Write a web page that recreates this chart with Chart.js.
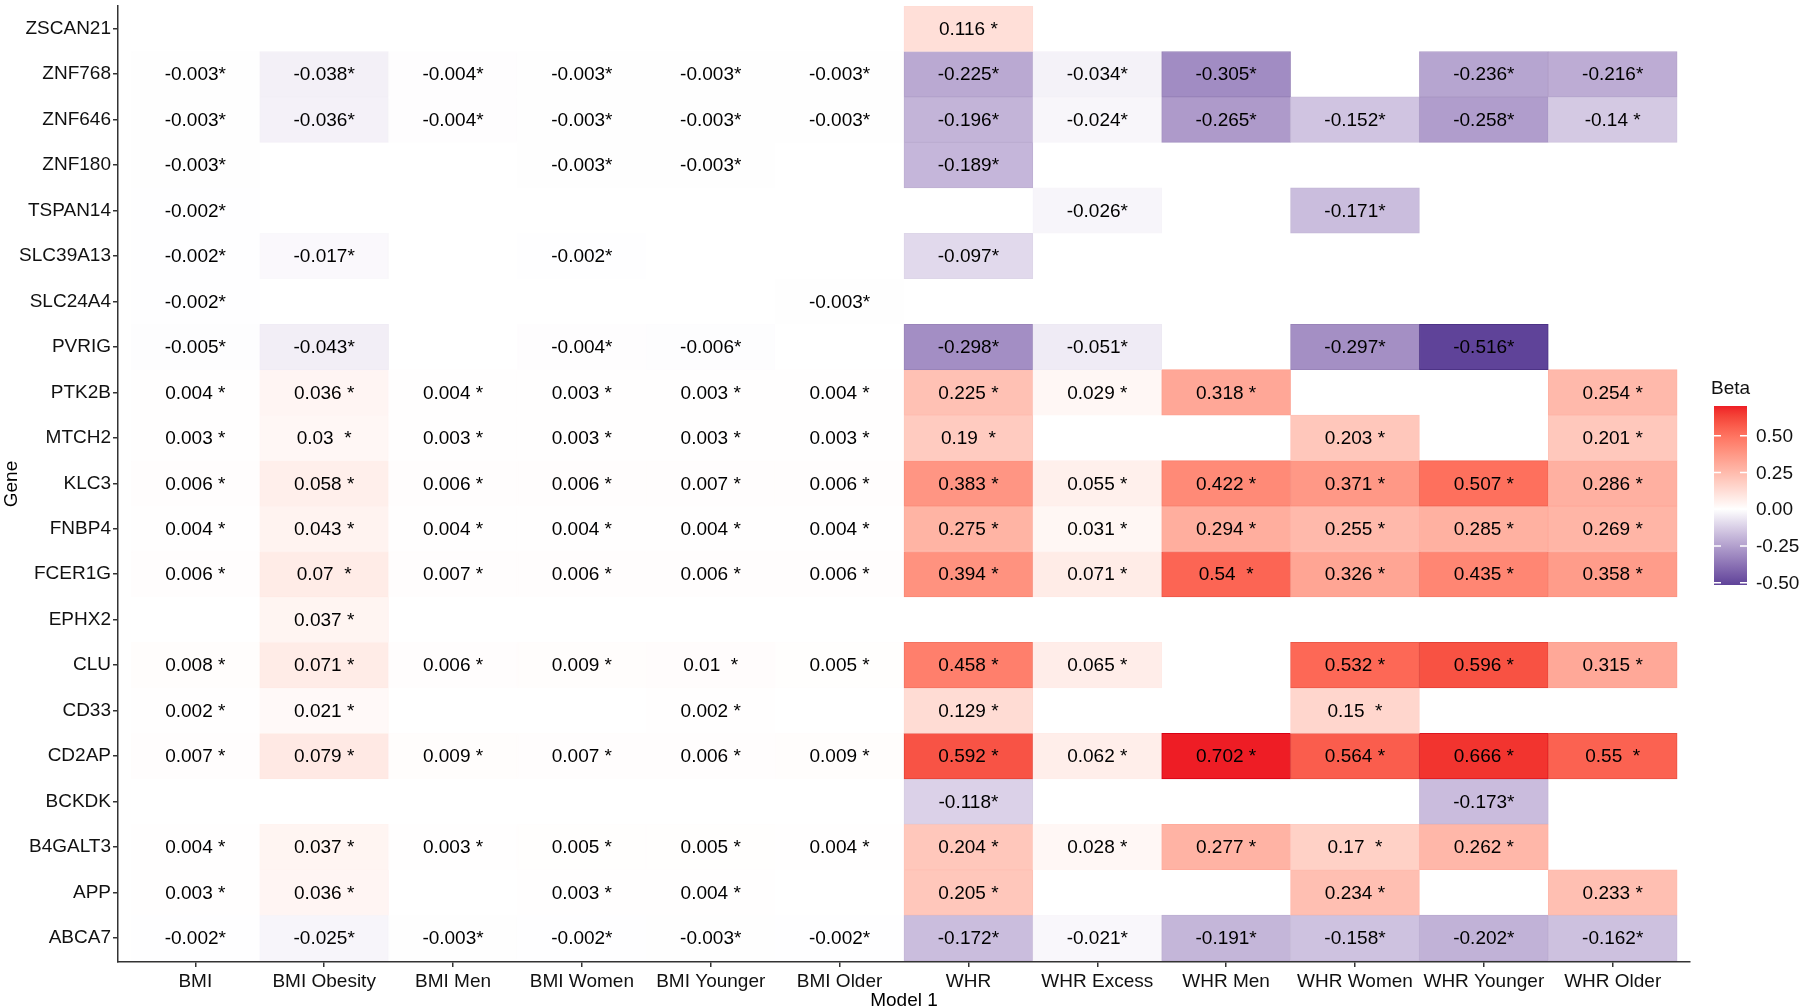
<!DOCTYPE html>
<html>
<head>
<meta charset="utf-8">
<script src="https://cdn.jsdelivr.net/npm/chart.js@4.4.1/dist/chart.umd.min.js"></script>
<style>
  html, body { margin: 0; padding: 0; background: #fff; }
  #wrap { width: 1800px; height: 1008px; }
</style>
</head>
<body>
<div id="wrap"><canvas id="heat" width="1800" height="1008"></canvas></div>
<script>
// x axis (Model 1)
models = ['BMI', 'BMI Obesity', 'BMI Men', 'BMI Women', 'BMI Younger', 'BMI Older',
          'WHR', 'WHR Excess', 'WHR Men', 'WHR Women', 'WHR Younger', 'WHR Older']

// y axis, top to bottom
genes = ['ZSCAN21', 'ZNF768', 'ZNF646', 'ZNF180', 'TSPAN14', 'SLC39A13', 'SLC24A4', 'PVRIG',
         'PTK2B', 'MTCH2', 'KLC3', 'FNBP4', 'FCER1G', 'EPHX2', 'CLU', 'CD33', 'CD2AP',
         'BCKDK', 'B4GALT3', 'APP', 'ABCA7']

// beta per gene, in the order of models (null = no tile)
ZSCAN21  = [null, null, null, null, null, null, 0.116, null, null, null, null, null]
ZNF768   = [-0.003, -0.038, -0.004, -0.003, -0.003, -0.003, -0.225, -0.034, -0.305, null, -0.236, -0.216]
ZNF646   = [-0.003, -0.036, -0.004, -0.003, -0.003, -0.003, -0.196, -0.024, -0.265, -0.152, -0.258, -0.14]
ZNF180   = [-0.003, null, null, -0.003, -0.003, null, -0.189, null, null, null, null, null]
TSPAN14  = [-0.002, null, null, null, null, null, null, -0.026, null, -0.171, null, null]
SLC39A13 = [-0.002, -0.017, null, -0.002, null, null, -0.097, null, null, null, null, null]
SLC24A4  = [-0.002, null, null, null, null, -0.003, null, null, null, null, null, null]
PVRIG    = [-0.005, -0.043, null, -0.004, -0.006, null, -0.298, -0.051, null, -0.297, -0.516, null]
PTK2B    = [0.004, 0.036, 0.004, 0.003, 0.003, 0.004, 0.225, 0.029, 0.318, null, null, 0.254]
MTCH2    = [0.003, 0.03, 0.003, 0.003, 0.003, 0.003, 0.19, null, null, 0.203, null, 0.201]
KLC3     = [0.006, 0.058, 0.006, 0.006, 0.007, 0.006, 0.383, 0.055, 0.422, 0.371, 0.507, 0.286]
FNBP4    = [0.004, 0.043, 0.004, 0.004, 0.004, 0.004, 0.275, 0.031, 0.294, 0.255, 0.285, 0.269]
FCER1G   = [0.006, 0.07, 0.007, 0.006, 0.006, 0.006, 0.394, 0.071, 0.54, 0.326, 0.435, 0.358]
EPHX2    = [null, 0.037, null, null, null, null, null, null, null, null, null, null]
CLU      = [0.008, 0.071, 0.006, 0.009, 0.01, 0.005, 0.458, 0.065, null, 0.532, 0.596, 0.315]
CD33     = [0.002, 0.021, null, null, 0.002, null, 0.129, null, null, 0.15, null, null]
CD2AP    = [0.007, 0.079, 0.009, 0.007, 0.006, 0.009, 0.592, 0.062, 0.702, 0.564, 0.666, 0.55]
BCKDK    = [null, null, null, null, null, null, -0.118, null, null, null, -0.173, null]
B4GALT3  = [0.004, 0.037, 0.003, 0.005, 0.005, 0.004, 0.204, 0.028, 0.277, 0.17, 0.262, null]
APP      = [0.003, 0.036, null, 0.003, 0.004, null, 0.205, null, null, 0.234, null, 0.233]
ABCA7    = [-0.002, -0.025, -0.003, -0.002, -0.003, -0.002, -0.172, -0.021, -0.191, -0.158, -0.202, -0.162]

legend_ticks = [0.5, 0.25, 0, -0.25, -0.5]

rows = [ZSCAN21, ZNF768, ZNF646, ZNF180, TSPAN14, SLC39A13, SLC24A4, PVRIG, PTK2B, MTCH2, KLC3,
        FNBP4, FCER1G, EPHX2, CLU, CD33, CD2AP, BCKDK, B4GALT3, APP, ABCA7]

all_betas = rows.flat().filter(v => v !== null)
beta_max = Math.max(...all_betas)
beta_min = Math.min(...all_betas)

FONT = '"Liberation Sans", Arial, sans-serif'
high_col = [238, 29, 37]
low_col = [95, 67, 153]

// ---- colour scale, white -> colour interpolated in Lab like ggplot's gradient2
function toLin(c) { c /= 255; return c <= 0.04045 ? c / 12.92 : Math.pow((c + 0.055) / 1.055, 2.4) }
function toSrgb(c) {
    c = c <= 0.0031308 ? 12.92 * c : 1.055 * Math.pow(c, 1 / 2.4) - 0.055
    return Math.round(Math.max(0, Math.min(1, c)) * 255)
}
function rgb2lab(rgb) {
    var r = toLin(rgb[0]), g = toLin(rgb[1]), b = toLin(rgb[2])
    var X = (0.4124 * r + 0.3576 * g + 0.1805 * b) / 0.95047
    var Y = 0.2126 * r + 0.7152 * g + 0.0722 * b
    var Z = (0.0193 * r + 0.1192 * g + 0.9505 * b) / 1.08883
    var f = t => t > 0.008856 ? Math.cbrt(t) : 7.787 * t + 16 / 116
    return [116 * f(Y) - 16, 500 * (f(X) - f(Y)), 200 * (f(Y) - f(Z))]
}
function lab2rgb(lab) {
    var fy = (lab[0] + 16) / 116, fx = fy + lab[1] / 500, fz = fy - lab[2] / 200
    var inv = t => t * t * t > 0.008856 ? t * t * t : (t - 16 / 116) / 7.787
    var X = 0.95047 * inv(fx), Y = inv(fy), Z = 1.08883 * inv(fz)
    return [toSrgb(3.2406 * X - 1.5372 * Y - 0.4986 * Z),
            toSrgb(-0.9689 * X + 1.8758 * Y + 0.0415 * Z),
            toSrgb(0.0557 * X - 0.2040 * Y + 1.0570 * Z)]
}
white_lab = rgb2lab([255, 255, 255])
high_lab = rgb2lab(high_col)
low_lab = rgb2lab(low_col)

function betaLab(v) {
    var t, end
    if (v >= 0) { t = v / beta_max; end = high_lab } else { t = v / beta_min; end = low_lab }
    return [0, 1, 2].map(k => white_lab[k] + (end[k] - white_lab[k]) * t)
}
function fillFor(v) {
    var c = lab2rgb(betaLab(v))
    return 'rgb(' + c.join(',') + ')'
}
function borderFor(v) {
    var lab = betaLab(v)
    var t = v >= 0 ? v / beta_max : v / beta_min
    lab[0] = lab[0] - 7 * t
    return 'rgb(' + lab2rgb(lab).join(',') + ')'
}

function cellText(v) {
    return String(v).padEnd(6, ' ') + '*'
}

// ---- one bar dataset per gene, each cell a floating bar one unit tall
datasets = []
genes.forEach((g, i) => {
    pos = genes.length - i
    cells = []
    rows[i].forEach((v, j) => {
        if (v !== null) cells.push({x: j, y: [pos - 0.5, pos + 0.5], beta: v})
    })
    datasets.push({
        label: g,
        data: cells,
        backgroundColor: c => fillFor(c.raw.beta),
        borderColor: c => borderFor(c.raw.beta),
        borderWidth: 1,
        borderSkipped: false,
        grouped: false,
        barPercentage: 1,
        categoryPercentage: 1,
    })
})

cell_labels = {
    id: 'cell_labels',
    afterDatasetsDraw(chart) {
        var ctx = chart.ctx, xs = chart.scales.x, ys = chart.scales.y
        ctx.save()
        ctx.font = '19px ' + FONT
        ctx.fillStyle = '#000'
        ctx.textAlign = 'center'
        ctx.textBaseline = 'middle'
        genes.forEach((g, i) => {
            rows[i].forEach((v, j) => {
                if (v === null) return
                ctx.fillText(cellText(v), xs.getPixelForValue(j), ys.getPixelForValue(genes.length - i) + 1)
            })
        })
        ctx.restore()
    }
}

// colour bar legend, ggplot style
beta_legend = {
    id: 'beta_legend',
    afterDraw(chart) {
        var ctx = chart.ctx
        var x0 = 1714, x1 = 1747, y0 = 406, y1 = 585
        var yOf = v => y0 + (beta_max - v) / (beta_max - beta_min) * (y1 - y0)
        ctx.save()
        var grad = ctx.createLinearGradient(0, y0, 0, y1)
        for (var k = 0; k <= 40; k++) {
            grad.addColorStop(k / 40, fillFor(beta_max - k / 40 * (beta_max - beta_min)))
        }
        ctx.fillStyle = grad
        ctx.fillRect(x0, y0, x1 - x0, y1 - y0)

        ctx.strokeStyle = '#fff'
        ctx.lineWidth = 1.5
        legend_ticks.forEach(t => {
            var y = yOf(t)
            ctx.beginPath()
            ctx.moveTo(x0, y); ctx.lineTo(x0 + 7, y)
            ctx.moveTo(x1 - 7, y); ctx.lineTo(x1, y)
            ctx.stroke()
        })

        ctx.fillStyle = '#111'
        ctx.font = '19px ' + FONT
        ctx.textBaseline = 'middle'
        ctx.textAlign = 'left'
        ctx.fillText('Beta', 1711, 389)
        legend_ticks.forEach(t => ctx.fillText(t.toFixed(2), 1756, yOf(t) + 1))
        ctx.restore()
    }
}

Chart.defaults.font.family = FONT
Chart.defaults.font.size = 19
Chart.defaults.color = '#111'

function noPad(s) {
    s.paddingTop = 0; s.paddingBottom = 0; s.paddingLeft = 0; s.paddingRight = 0
}

var ctx = document.getElementById('heat').getContext('2d')
heat_chart = new Chart(ctx, {
    type: 'bar',
    data: { datasets: datasets },
    plugins: [cell_labels, beta_legend],
    options: {
        responsive: false,
        animation: false,
        layout: { padding: { top: 6, right: 110, bottom: 0, left: 0 } },
        plugins: { legend: { display: false }, tooltip: { enabled: false } },
        scales: {
            x: {
                type: 'linear',
                offset: false,
                min: -0.6,
                max: 11.6,
                afterBuildTicks: s => { s.ticks = models.map((m, j) => ({value: j})) },
                afterFit: s => { s.height = 46; noPad(s) },
                ticks: { callback: (v) => models[v], padding: 3, maxRotation: 0, autoSkip: false, color: '#111' },
                grid: { offset: false, drawOnChartArea: false, drawTicks: true, tickLength: 5, color: '#333', lineWidth: 1.5 },
                border: { display: true, color: '#333', width: 1.5 },
                title: { display: true, text: 'Model 1', color: '#000', padding: { top: 0, bottom: -4 } }
            },
            y: {
                type: 'linear',
                min: 0.47,
                max: 21.5,
                afterBuildTicks: s => { s.ticks = genes.map((g, i) => ({value: genes.length - i})) },
                afterFit: s => { s.width = 118; noPad(s) },
                ticks: { callback: (v) => genes[genes.length - v], padding: 2, autoSkip: false, color: '#111' },
                grid: { drawOnChartArea: false, drawTicks: true, tickLength: 5, color: '#333', lineWidth: 1.5 },
                border: { display: true, color: '#333', width: 1.5 },
                title: { display: true, text: 'Gene', color: '#000', padding: 0 }
            }
        }
    }
})
</script>
</body>
</html>
